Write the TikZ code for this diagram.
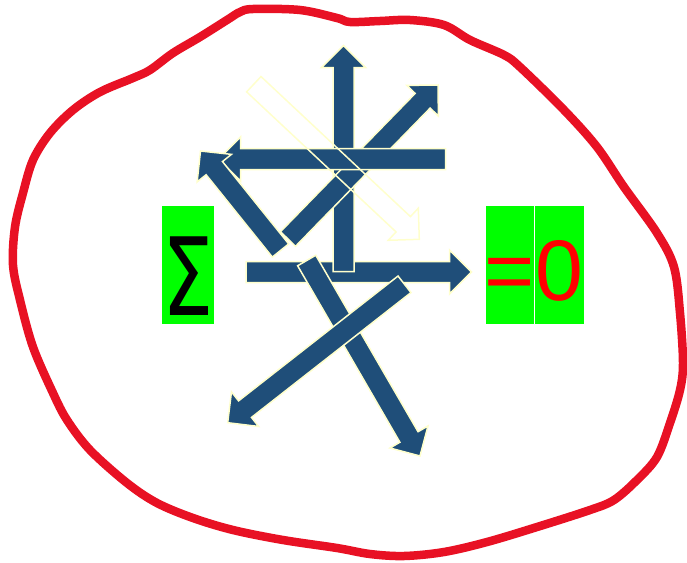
\documentclass[tikz,border=0pt]{standalone}
\usepackage{fontspec}
\setmainfont{Liberation Sans}
\newfontfamily\sigmafont{DejaVu Sans}
\usepackage{tikz}
\usetikzlibrary{calc}

\definecolor{arrowblue}{RGB}{31,78,121}
\definecolor{paleyellow}{RGB}{255,255,204}
\definecolor{blobred}{RGB}{232,17,36}
\definecolor{boxgreen}{RGB}{0,255,0}

% block arrow from tail #2 to tip #3
\newcommand{\blockarrow}[3]{%
  \coordinate (#3-h) at ($(#3)!22pt!(#2)$);
  \draw[#1] ($(#2)!10.5pt!90:(#3)$) -- ($(#3-h)!10.5pt!-90:(#2)$) -- ($(#3-h)!22pt!-90:(#2)$) -- (#3)
    -- ($(#3-h)!22pt!90:(#2)$) -- ($(#3-h)!10.5pt!90:(#2)$) -- ($(#2)!10.5pt!-90:(#3)$) -- cycle;}

\begin{document}
\begin{tikzpicture}[x=1pt, y=-1pt,
    bluearrow/.style={fill=arrowblue, draw=paleyellow, line width=1.5pt},
    hollowarrow/.style={draw=paleyellow, line width=1.5pt},
    greenbox/.style={fill=boxgreen, inner sep=0pt, minimum height=118pt}]
  \useasboundingbox (0,0) rectangle (687,562);

  \draw[blobred, line width=8.5pt] plot[smooth cycle, tension=0.55] coordinates {
    (253,9) (300,10) (337,18) (350,22) (380,21) (410,20) (444,25) (470,40) (504,55) (520,67)
    (564,110) (597,147) (624,187) (657,233) (674,267) (680,313) (683,363) (680,390) (670,423)
    (657,457) (637,480) (614,500) (590,510) (537,527) (487,542) (444,552) (404,556) (370,554)
    (337,548) (283,540) (233,530) (193,518) (157,503) (127,483) (90,450) (67,420) (53,393)
    (33,347) (20,300) (13,265) (15,227) (23,193) (33,160) (50,133) (73,110) (100,92) (133,78)
    (150,70) (173,53) (200,37) (227,20) (240,12)};

  \node[greenbox, minimum width=52pt] (sumbox) at (188,265) {};
  \node[greenbox, minimum width=48.5pt] (eqbox) at (510,265) {};
  \node[greenbox, minimum width=48.5pt] (zerobox) at (559.5,265) {};
  \node[anchor=base, inner sep=0pt, font=\sigmafont\fontsize{108}{108}\selectfont] (sum) at (188,315) {\scalebox{0.75}[1]{Σ}};
  \node[anchor=base, inner sep=0pt, text=red, font=\fontsize{86}{86}\selectfont] (eq) at (510,300) {=};
  \node[anchor=base, inner sep=0pt, text=red, font=\fontsize{86}{86}\selectfont] (zero) at (559.5,300) {0};

  \coordinate (rt-t) at (246,272);     \coordinate (rt) at (471.5,272);
  \coordinate (up-t) at (343.5,271.5); \coordinate (up) at (343.5,45.5);
  \coordinate (ne-t) at (288,239);     \coordinate (ne) at (438,85);
  \coordinate (lt-t) at (445.7,159);   \coordinate (lt) at (218.5,159);
  \coordinate (nw-t) at (280.5,250.5); \coordinate (nw) at (200.5,151);
  \coordinate (se-t) at (306.7,260.5); \coordinate (se) at (420,456);
  \coordinate (sw-t) at (404.5,284.3); \coordinate (sw) at (227.7,422.7);
  \coordinate (wt-t) at (253.8,84.2);  \coordinate (wt) at (419.3,239.3);

  \blockarrow{bluearrow}{rt-t}{rt}
  \blockarrow{bluearrow}{up-t}{up}
  \blockarrow{bluearrow}{ne-t}{ne}
  \blockarrow{bluearrow}{lt-t}{lt}
  \blockarrow{bluearrow}{nw-t}{nw}
  \blockarrow{bluearrow}{se-t}{se}
  \blockarrow{bluearrow}{sw-t}{sw}
  \blockarrow{hollowarrow}{wt-t}{wt}
\end{tikzpicture}
\end{document}
